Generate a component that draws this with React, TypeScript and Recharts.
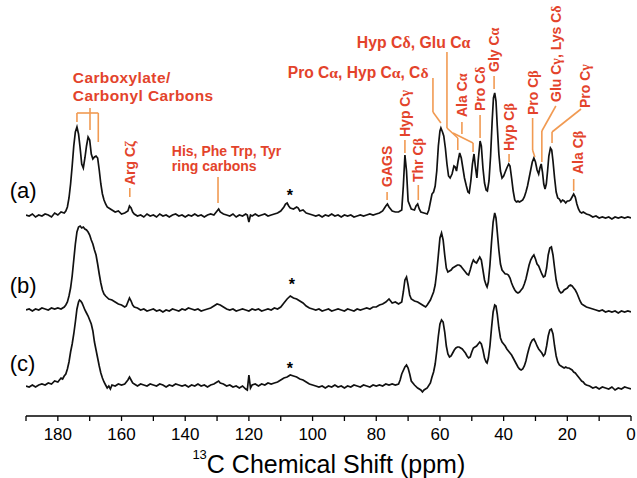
import React from 'react';
import { LineChart, Line, XAxis, YAxis, ReferenceLine, ReferenceDot } from 'recharts';

// ---------- spectra: [ppm, intensity above own baseline] ----------
const TRACE_A: [number, number][] = [
  [190, 1], [189, 0], [188, 2], [187, -1], [186, 1], [185, 0], [184, 2], [183, 1], [182, -1], [181, 3], [180, 1], [179, 4], [178, 3],
  [177.5, 5], [177, 9], [176.5, 18], [176, 32], [175.5, 50], [175, 70], [174.5, 84], [174, 89], [173.5, 82], [173, 68], [172.5, 52],
  [172, 48], [171.5, 58], [171, 70], [170.5, 79], [170, 76], [169.5, 62], [169, 57], [168.5, 59], [168, 60], [167.5, 58], [167, 46],
  [166.5, 32], [166, 22], [165.5, 16], [165, 12], [164.5, 9], [164, 8], [163, 6], [162, 4], [161, 5], [160, 2], [159, 3], [158, 5],
  [157.5, 10], [157, 8], [156.5, 4], [156, 2], [155, 0], [154, 1], [153, -1], [152, 2], [151, 0], [150, 1], [149, -1], [148, 2],
  [147, 0], [146, 1], [145, -1], [144, 1], [143, 2], [142, 0], [141, 1], [140, -1], [139, 1], [138, 0], [137, 2], [136, 0], [135, 1],
  [134, -1], [133, 1], [132, 2], [131, 1], [130, 5], [129.5, 7], [129, 4], [128, 2], [127, 1], [126, 0], [125, 2], [124, -1], [123, 1],
  [122, 0], [121, 2], [120.5, 1], [120, -6], [119.5, 1], [119, 0], [118, 2], [117, 0], [116, 1], [115, 2], [114, 0], [113, 1], [112, 2],
  [111, 3], [110, 5], [109, 9], [108.5, 12], [108, 13], [107.5, 10], [107, 8], [106, 7], [105, 9], [104.5, 8], [104, 5], [103, 6],
  [102, 3], [101, 2], [100, 1], [99, 0], [98, 1], [97, -1], [96, 1], [95, 0], [94, 2], [93, 0], [92, 1], [91, -1], [90, 1], [89, 0],
  [88, 1], [87, -1], [86, 0], [85, 1], [84, 0], [83, 1], [82, 2], [81, 1], [80, 2], [79, 3], [78, 5], [77, 10], [76.5, 12], [76, 9],
  [75, 5], [74, 4], [73, 4], [72, 6], [71.5, 30], [71, 61], [70.5, 45], [70, 15], [69, 7], [68, 6], [67.5, 10], [67, 12], [66.5, 7],
  [66, 4], [65, 3], [64, 2], [63.5, 6], [63, 14], [62.5, 22], [62, 24], [61.5, 30], [61, 45], [60.5, 70], [60, 85], [59.7, 88],
  [59.2, 84], [58.8, 80], [58.3, 68], [57.8, 52], [57.3, 40], [56.8, 38], [56.2, 42], [55.6, 50], [55.2, 49], [54.8, 45], [54.3, 55],
  [53.8, 63], [53.3, 58], [52.8, 48], [52.3, 38], [51.7, 30], [51.2, 24], [50.8, 23], [50.3, 35], [49.8, 52], [49.3, 62], [48.9, 50],
  [48.4, 38], [48, 55], [47.4, 75], [47, 70], [46.5, 48], [46, 33], [45.5, 26], [45.1, 25], [44.6, 35], [44.1, 60], [43.6, 95],
  [43.2, 118], [42.8, 123], [42.4, 115], [42, 90], [41.5, 62], [41, 45], [40.5, 38], [40, 40], [39.5, 44], [39, 48], [38.4, 52],
  [38, 50], [37.5, 38], [37, 25], [36.5, 16], [36, 14], [35.5, 15], [35, 14], [34.5, 15], [34, 16], [33.5, 19], [33, 24], [32.5, 30],
  [32, 38], [31.5, 46], [31, 54], [30.5, 58], [30, 54], [29.5, 46], [29, 42], [28.6, 48], [28.2, 52], [27.8, 44], [27.4, 32], [27, 27],
  [26.6, 32], [26.2, 45], [25.8, 60], [25.3, 68], [24.9, 66], [24.5, 55], [24, 38], [23.5, 24], [23, 18], [22.5, 17], [22, 14],
  [21.5, 16], [21, 15], [20.5, 13], [20, 15], [19.5, 15], [19, 16], [18.5, 19], [18, 22], [17.5, 19], [17, 12], [16.5, 7], [16, 4],
  [15.5, 3], [15, 4], [14, 2], [13, 1], [12, -1], [11, 0], [10, -2], [9, -1], [8, -2], [7, -1], [6, -3], [5, -1], [4, -2], [3, -1],
  [2, -2], [1, -1], [0, -2],
];

const TRACE_B: [number, number][] = [
  [190, 0], [189, 1], [188, -1], [187, 1], [186, 0], [185, 2], [184, 1], [183, 0], [182, 2], [181, 1], [180, 2], [179, 1], [178, 3],
  [177.5, 5], [177, 8], [176.5, 14], [176, 22], [175.5, 34], [175, 50], [174.5, 66], [174, 78], [173.5, 83], [173, 84], [172.5, 82],
  [172, 83], [171.5, 81], [171, 80], [170.5, 78], [170, 75], [169.5, 70], [169, 66], [168.5, 60], [168, 55], [167.5, 46], [167, 36],
  [166.5, 27], [166, 20], [165.5, 16], [165, 14], [164, 11], [163, 10], [162, 8], [161, 6], [160, 5], [159, 3], [158.5, 4], [158, 8],
  [157.5, 12], [157, 9], [156.5, 5], [156, 3], [155, 2], [154, 0], [153, 1], [152, -1], [151, 0], [150, 1], [149, -1], [148, 0],
  [147, -2], [146, 0], [145, -1], [144, 1], [143, 0], [142, -1], [141, 1], [140, 0], [139, 2], [138, 1], [137, 0], [136, 1], [135, -1],
  [134, 0], [133, 1], [132, 2], [131, 4], [130, 6], [129, 5], [128, 3], [127, 1], [126, 0], [125, 1], [124, -1], [123, 0], [122, 1],
  [121, 0], [120, -1], [119, 1], [118, 0], [117, 1], [116, -1], [115, 0], [114, 1], [113, 0], [112, 2], [111, 1], [110, 3], [109, 7],
  [108, 11], [107, 14], [106, 12], [105, 11], [104, 9], [103, 7], [102, 4], [101, 2], [100, 1], [99, 0], [98, 1], [97, -1], [96, 0],
  [95, 1], [94, -1], [93, 0], [92, 1], [91, 0], [90, -1], [89, 1], [88, 0], [87, -1], [86, 1], [85, 0], [84, 1], [83, 2], [82, 1],
  [81, 3], [80, 3], [79, 5], [78, 6], [77, 8], [76, 11], [75.5, 9], [75, 7], [74, 8], [73, 6], [72, 8], [71.5, 18], [71, 30],
  [70.5, 33], [70, 25], [69.5, 15], [69, 11], [68, 9], [67, 8], [66, 6], [65, 4], [64.5, 3], [64, 5], [63, 10], [62, 18], [61.5, 25],
  [61, 38], [60.5, 55], [60, 72], [59.5, 77], [59, 70], [58.5, 55], [58, 42], [57.5, 38], [57, 39], [56.5, 40], [56, 42], [55.5, 43],
  [55, 44], [54.5, 45], [54, 45], [53.5, 44], [53, 42], [52.5, 40], [52, 38], [51.5, 36], [51, 35], [50.5, 40], [50, 46], [49.5, 50],
  [49, 48], [48.5, 47], [48, 50], [47.5, 53], [47, 50], [46.5, 40], [46, 30], [45.5, 25], [45.2, 23], [44.8, 28], [44.3, 45],
  [43.8, 68], [43.3, 88], [42.8, 97], [42.4, 92], [42, 78], [41.5, 60], [41, 46], [40.5, 40], [40, 38], [39.5, 36], [39, 36],
  [38.5, 35], [38, 32], [37.5, 27], [37, 23], [36.5, 20], [36, 18], [35.5, 17], [35, 18], [34.5, 20], [34, 22], [33.5, 26], [33, 31],
  [32.5, 38], [32, 45], [31.5, 50], [31, 53], [30.5, 55], [30, 51], [29.5, 46], [29, 44], [28.5, 40], [28, 36], [27.5, 33], [27, 34],
  [26.5, 42], [26, 55], [25.5, 62], [25, 63], [24.5, 55], [24, 42], [23.5, 30], [23, 23], [22.5, 19], [22, 17], [21.5, 18], [21, 20],
  [20.5, 21], [20, 22], [19.5, 24], [19, 25], [18.5, 24], [18, 22], [17.5, 20], [17, 17], [16.5, 13], [16, 9], [15.5, 6], [15, 5],
  [14, 3], [13, 2], [12, 1], [11, 0], [10, -1], [9, 0], [8, -2], [7, -1], [6, -2], [5, -1], [4, -3], [3, -1], [2, -2], [1, -1], [0, -2],
];

const TRACE_C: [number, number][] = [
  [190, 0], [189, -1], [188, 1], [187, -1], [186, 1], [185, 2], [184, 1], [183, 3], [182, 2], [181, 5], [180, 4], [179, 8],
  [178.5, 7], [178, 10], [177.5, 12], [177, 17], [176.5, 24], [176, 34], [175.5, 42], [175, 52], [174.5, 64], [174, 77], [173.5, 84],
  [173.2, 86], [172.8, 85], [172.4, 83], [172, 80], [171.5, 76], [171, 73], [170.5, 70], [170, 66], [169.5, 62], [169, 55],
  [168.5, 44], [168, 36], [167.5, 28], [167, 20], [166.5, 13], [166, 8], [165.5, 4], [165, 1], [164.5, -2], [164, 0], [163.5, -3],
  [163, 1], [162, 0], [161, 2], [160, 1], [159, 2], [158, 6], [157.5, 9], [157, 6], [156.5, 3], [156, 2], [155, 0], [154, 2], [153, 1],
  [152, 0], [151, 2], [150, 1], [149, 0], [148, 2], [147, 1], [146, -1], [145, 1], [144, 0], [143, 2], [142, 1], [141, 0], [140, 1],
  [139, -1], [138, 1], [137, 0], [136, 2], [135, 0], [134, 1], [133, -1], [132, 1], [131, 2], [130, 4], [129.5, 5], [129, 3], [128, 2],
  [127, 0], [126, 1], [125, -1], [124, 0], [123, -2], [122, 0], [121, -3], [120.5, -4], [120, 11], [119.5, -2], [119, 1], [118, 2],
  [117, 0], [116, 2], [115, 1], [114, 3], [113, 2], [112, 3], [111, 4], [110, 6], [109, 8], [108, 9], [107, 11], [106, 10], [105, 9],
  [104, 7], [103, 6], [102, 4], [101, 2], [100, 1], [99, 0], [98, -1], [97, 0], [96, -2], [95, 0], [94, -1], [93, 1], [92, -1], [91, 0],
  [90, -2], [89, 0], [88, -1], [87, 1], [86, 0], [85, -1], [84, 1], [83, 0], [82, -1], [81, 1], [80, 0], [79, 1], [78, 0], [77, 2],
  [76, 1], [75, 2], [74, 1], [73, 2], [72.5, 6], [72, 12], [71, 19], [70.5, 21], [70, 18], [69.5, 12], [69, 5], [68, 1], [67, -2],
  [66, -4], [65.5, -6], [65, -4], [64, -2], [63, 3], [62.5, 9], [62, 14], [61.5, 22], [61, 35], [60.5, 50], [60, 62], [59.5, 66],
  [59, 64], [58.5, 54], [58, 40], [57.5, 32], [57, 29], [56.5, 30], [56, 33], [55.5, 36], [55, 38], [54.5, 39], [54, 39], [53.5, 38],
  [53, 37], [52.5, 35], [52, 33], [51.5, 30], [51, 28], [50.5, 29], [50, 34], [49.5, 38], [49, 39], [48.5, 40], [48, 42], [47.5, 44],
  [47, 42], [46.5, 36], [46, 28], [45.5, 24], [45.2, 23], [44.8, 28], [44.3, 40], [43.8, 58], [43.3, 74], [42.8, 81], [42.4, 80],
  [42, 72], [41.5, 58], [41, 48], [40.5, 44], [40, 42], [39.5, 40], [39, 37], [38.5, 35], [38, 33], [37.5, 31], [37, 28], [36.5, 25],
  [36, 22], [35.5, 19], [35, 17], [34.5, 16], [34, 17], [33.5, 20], [33, 25], [32.5, 32], [32, 38], [31.5, 43], [31, 46], [30.5, 47],
  [30, 44], [29.5, 40], [29, 37], [28.5, 35], [28, 33], [27.5, 30], [27, 32], [26.5, 40], [26, 50], [25.5, 56], [25, 57], [24.5, 52],
  [24, 40], [23.5, 30], [23, 24], [22.5, 21], [22, 20], [21.5, 19], [21, 18], [20.5, 19], [20, 18], [19.5, 18], [19, 17], [18.5, 16],
  [18, 14], [17.5, 13], [17, 11], [16.5, 9], [16, 7], [15.5, 5], [15, 4], [14.5, 2], [14, 1], [13, 0], [12, -2], [11, -1], [10, -3],
  [9, -1], [8, -2], [7, -3], [6, -1], [5, -4], [4, -2], [3, -3], [2, -1], [1, -2], [0, -3],
];

// vertical stacking offsets of the three spectra (intensity units)
const OFFSET_A = 200;
const OFFSET_B = 106;
const OFFSET_C = 30;

const X_TICKS = [190, 180, 170, 160, 150, 140, 130, 120, 110, 100, 90, 80, 70, 60, 50, 40, 30, 20, 10, 0];

// ---------- annotations (ppm, intensity units) ----------
const ROTATED_LABELS = [
  { text: 'Arg Cζ', ppm: 157.4, y: 231 },
  { text: 'GAGS', ppm: 76.6, y: 229 },
  { text: 'Hyp Cγ', ppm: 71.0, y: 279 },
  { text: 'Thr Cβ', ppm: 66.8, y: 234 },
  { text: 'Ala Cα', ppm: 53.1, y: 299 },
  { text: 'Pro Cδ', ppm: 47.4, y: 305 },
  { text: 'Gly Cα', ppm: 43.0, y: 344 },
  { text: 'Hyp Cβ', ppm: 38.3, y: 265 },
  { text: 'Pro Cβ', ppm: 30.9, y: 301 },
  { text: 'Glu Cγ, Lys Cδ', ppm: 23.6, y: 314 },
  { text: 'Pro Cγ', ppm: 14.3, y: 308 },
  { text: 'Ala Cβ', ppm: 16.8, y: 242 },
];

const TEXT_LABELS = [
  { lines: ['Carboxylate/', 'Carbonyl Carbons'], ppm: 175.3, y: 339, size: 15.5, gap: 18, spacing: 0.4 },
  { lines: ['His, Phe Trp, Tyr', 'ring carbons'], ppm: 144.2, y: 265, size: 14, gap: 15, spacing: 0 },
  { lines: ['Pro Cα, Hyp Cα, Cδ'], ppm: 107.8, y: 344, size: 15.6, gap: 0, spacing: 0 },
  { lines: ['Hyp Cδ, Glu Cα'], ppm: 86.1, y: 374, size: 15.8, gap: 0, spacing: 0 },
];

const LEADERS: [number, number][][] = [
  [[157.4, 228], [157.4, 219]],
  [[129.7, 239], [129.7, 213]],
  [[76.6, 224], [76.6, 216]],
  [[71.0, 276], [71.0, 263]],
  [[66.8, 231], [66.8, 216]],
  [[62.2, 338], [62.2, 304], [59.7, 293]],
  [[57.8, 364], [57.8, 288], [54.4, 278], [54.4, 266]],
  [[55.9, 283], [49.6, 273], [49.6, 264]],
  [[53.1, 294], [53.1, 282]],
  [[47.4, 301], [47.4, 278]],
  [[43.0, 340], [43.0, 327]],
  [[38.3, 262], [38.3, 254]],
  [[30.9, 298], [30.9, 266], [30.2, 259]],
  [[23.6, 310], [28.0, 285], [28.0, 254]],
  [[15.7, 307], [24.8, 284], [24.8, 273]],
  [[18.0, 237], [18.0, 225]],
  [[174.0, 294], [174.0, 303], [167.3, 303], [167.3, 274]],
  [[169.9, 308], [169.9, 286]],
];

const TRACE_TAGS = [
  { text: '(a)', ppm: 195.1, y: 226 },
  { text: '(b)', ppm: 195.1, y: 131 },
  { text: '(c)', ppm: 195.1, y: 53 },
];

const STARS = [
  { ppm: 107.1, y: 224 },
  { ppm: 106.5, y: 135 },
  { ppm: 107.1, y: 51 },
];

const TITLE_POS = { ppm: 94.9, y: -57 };

// ---------- styles ----------
const SANS = "'Liberation Sans', Arial, Helvetica, sans-serif";
const SERIF = "'Liberation Serif', 'Times New Roman', serif";
const TEXT_RED = '#e3432b';
const LEADER_ORANGE = '#f19a52';

const dataA = TRACE_A.map(([ppm, h]) => ({ ppm, v: h + OFFSET_A }));
const dataB = TRACE_B.map(([ppm, h]) => ({ ppm, v: h + OFFSET_B }));
const dataC = TRACE_C.map(([ppm, h]) => ({ ppm, v: h + OFFSET_C }));

const GREEK = /([αβγδζ])/;
function rich(s: string, keyBase: string) {
  return s
    .split(GREEK)
    .filter((p) => p.length > 0)
    .map((part, i) =>
      part.length === 1 && GREEK.test(part) ? (
        <tspan key={`${keyBase}-${i}`} fontFamily={SERIF}>
          {part}
        </tspan>
      ) : (
        <tspan key={`${keyBase}-${i}`}>{part}</tspan>
      ),
    );
}

function rotatedLabel(l: { text: string; ppm: number; y: number }, i: number) {
  return (
    <ReferenceDot
      key={`rot-${i}`}
      x={l.ppm}
      y={l.y}
      r={0}
      ifOverflow="visible"
      shape={(p: any) => (
        <text
          x={p.cx}
          y={p.cy}
          transform={`rotate(-90 ${p.cx} ${p.cy})`}
          textAnchor="start"
          dominantBaseline="central"
          fontSize={14}
          fontWeight="bold"
          fontFamily={SANS}
          fill={TEXT_RED}
        >
          {rich(l.text, 'r')}
        </text>
      )}
    />
  );
}

function textLabel(
  l: { lines: string[]; ppm: number; y: number; size: number; gap: number; spacing: number },
  i: number,
) {
  return (
    <ReferenceDot
      key={`txt-${i}`}
      x={l.ppm}
      y={l.y}
      r={0}
      ifOverflow="visible"
      shape={(p: any) => (
        <g>
          {l.lines.map((line, j) => (
            <text
              key={j}
              x={p.cx}
              y={p.cy + j * l.gap}
              textAnchor="start"
              dominantBaseline="central"
              fontSize={l.size}
              fontWeight="bold"
              letterSpacing={l.spacing}
              fontFamily={SANS}
              fill={TEXT_RED}
            >
              {rich(line, `l${j}`)}
            </text>
          ))}
        </g>
      )}
    />
  );
}

function leader(pts: [number, number][], i: number) {
  const segs = [];
  for (let k = 0; k < pts.length - 1; k++) {
    segs.push(
      <ReferenceLine
        key={`ld-${i}-${k}`}
        segment={[
          { x: pts[k][0], y: pts[k][1] },
          { x: pts[k + 1][0], y: pts[k + 1][1] },
        ]}
        stroke={LEADER_ORANGE}
        strokeWidth={1.6}
        ifOverflow="visible"
      />,
    );
  }
  return segs;
}

export default function App() {
  return (
    <div style={{ position: 'absolute', left: 0, top: 0, background: '#fff' }}>
      <LineChart width={637} height={478} margin={{ top: 20, right: 6, bottom: 0, left: 26 }}>
        <XAxis
          type="number"
          dataKey="ppm"
          domain={[0, 190]}
          reversed
          allowDataOverflow
          ticks={X_TICKS}
          interval={0}
          tickFormatter={(v: number) => (v % 20 === 0 ? String(v) : '')}
          height={62}
          tickSize={5}
          tickMargin={7}
          axisLine={{ stroke: '#000', strokeWidth: 1.6 }}
          tickLine={{ stroke: '#000', strokeWidth: 1.3 }}
          tick={{ fill: '#000', fontSize: 17, fontFamily: SANS }}
        />
        <YAxis hide type="number" domain={[0, 396]} allowDataOverflow />

        <Line data={dataA} dataKey="v" type="linear" dot={false} stroke="#111" strokeWidth={1.7} isAnimationActive={false} />
        <Line data={dataB} dataKey="v" type="linear" dot={false} stroke="#111" strokeWidth={1.7} isAnimationActive={false} />
        <Line data={dataC} dataKey="v" type="linear" dot={false} stroke="#111" strokeWidth={1.7} isAnimationActive={false} />

        {LEADERS.map((pts, i) => leader(pts, i))}
        {ROTATED_LABELS.map((l, i) => rotatedLabel(l, i))}
        {TEXT_LABELS.map((l, i) => textLabel(l, i))}

        {TRACE_TAGS.map((t, i) => (
          <ReferenceDot
            key={`tag-${i}`}
            x={t.ppm}
            y={t.y}
            r={0}
            ifOverflow="visible"
            shape={(p: any) => (
              <text x={p.cx} y={p.cy} textAnchor="start" dominantBaseline="central" fontSize={22} fontFamily={SANS} fill="#000">
                {t.text}
              </text>
            )}
          />
        ))}

        {STARS.map((s, i) => (
          <ReferenceDot
            key={`star-${i}`}
            x={s.ppm}
            y={s.y}
            r={0}
            ifOverflow="visible"
            shape={(p: any) => (
              <text x={p.cx} y={p.cy + 9} textAnchor="middle" fontSize={16} fontWeight="bold" fontFamily={SANS} fill="#000">
                *
              </text>
            )}
          />
        ))}

        <ReferenceDot
          x={TITLE_POS.ppm}
          y={TITLE_POS.y}
          r={0}
          ifOverflow="visible"
          shape={(p: any) => (
            <text x={p.cx} y={p.cy} textAnchor="middle" fontSize={25} fontFamily={SANS} fill="#000">
              <tspan fontSize={13} dy={-14}>13</tspan>
              <tspan dy={14}>C Chemical Shift (ppm)</tspan>
            </text>
          )}
        />
      </LineChart>
    </div>
  );
}
